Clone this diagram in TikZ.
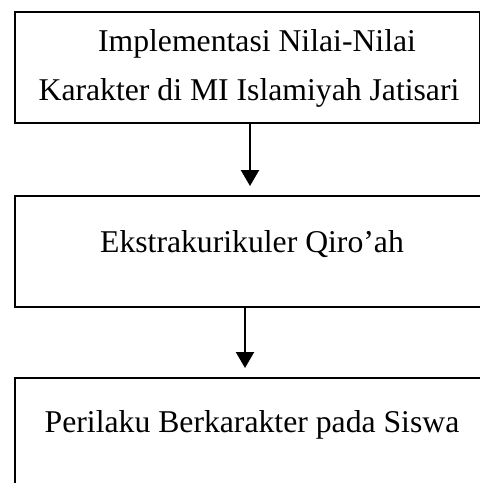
\documentclass[tikz,border=0pt]{standalone}
\usepackage{fontspec}
\setmainfont{Liberation Serif}
\usetikzlibrary{arrows.meta,calc}
\begin{document}
\begin{tikzpicture}[x=1pt,y=-1pt,
  boxnode/.style={draw=black,line width=2.3pt,rectangle,inner sep=0pt,anchor=north west},
  txt/.style={inner sep=0pt,anchor=base,font=\fontsize{31.7}{36}\selectfont},
  conn/.style={line width=2.2pt,-{Triangle[width=18pt,length=16pt]},shorten >=9pt}]
\useasboundingbox (0,0) rectangle (480,483);
\clip (0,0) rectangle (480,483);
\node[boxnode,minimum width=465pt,minimum height=111pt] (b1) at (14,11) {};
\node[boxnode,minimum width=480pt,minimum height=111pt] (b2) at (14,195) {};
\node[boxnode,minimum width=480pt,minimum height=130pt] (b3) at (14,377) {};
\node[txt] (t1a) at (257,51) {Implementasi Nilai-Nilai};
\node[txt] (t1b) at (249,100) {Karakter di MI Islamiyah Jatisari};
\node[txt] (t2) at (252,252) {Ekstrakurikuler Qiro’ah};
\node[txt] (t3) at (252,432) {Perilaku Berkarakter pada Siswa};
\coordinate (a1) at (250,0);
\coordinate (a2) at (245,0);
\draw[conn] (b1.south -| a1) -- (b2.north -| a1);
\draw[conn] (b2.south -| a2) -- (b3.north -| a2);
\end{tikzpicture}
\end{document}
